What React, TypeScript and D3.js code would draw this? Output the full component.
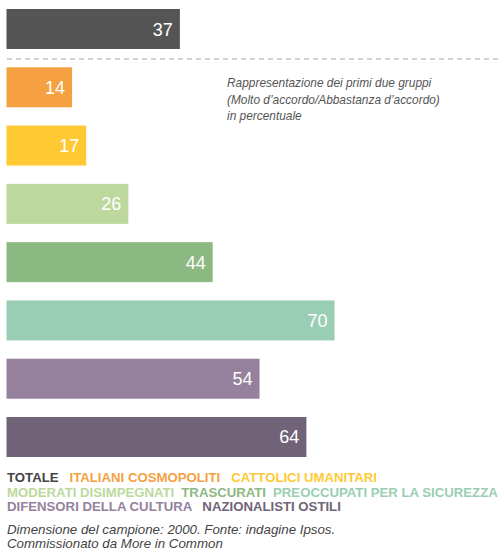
import React from "react";
import * as d3 from "d3";

const categories = [
  "TOTALE",
  "ITALIANI COSMOPOLITI",
  "CATTOLICI UMANITARI",
  "MODERATI DISIMPEGNATI",
  "TRASCURATI",
  "PREOCCUPATI PER LA SICUREZZA",
  "DIFENSORI DELLA CULTURA",
  "NAZIONALISTI OSTILI",
];
const values = [37, 14, 17, 26, 44, 70, 54, 64];
const colors = ["#555555", "#F5A142", "#FFC933", "#BDD89C", "#8CB881", "#9ACEB4", "#95819D", "#716377"];
const legendLines = [[0, 1, 2], [3, 4, 5], [6, 7]];
const legendGaps = [11, 7, 10];
const noteLines = [
  "Rappresentazione dei primi due gruppi",
  "(Molto d\u2019accordo/Abbastanza d\u2019accordo)",
  "in percentuale",
];
const footLines = [
  "Dimensione del campione: 2000. Fonte: indagine Ipsos.",
  "Commissionato da More in Common",
];

const W = 498;
const H = 551;
const FONT = "'Liberation Sans', Arial, Helvetica, sans-serif";

export default function App() {
  const x = d3.scaleLinear().domain([0, 100]).range([6.5, 6.5 + 468.6]);
  const y = d3.scaleBand<number>().domain(d3.range(categories.length)).range([9, 457]).paddingInner(0.3137);
  const legendColor = (i: number) => (i === 0 ? "#444444" : colors[i]);

  return (
    <svg
      width={W}
      height={H}
      style={{ position: "absolute", left: 0, top: 0, background: "#fff" }}
      fontFamily={FONT}
    >
      {values.map((v, i) => (
        <g key={i}>
          <rect x={x(0)} y={y(i)} width={x(v) - x(0)} height={y.bandwidth()} fill={colors[i]} />
          <text
            x={x(v) - 7}
            y={(y(i) as number) + y.bandwidth() / 2 + 6.5}
            textAnchor="end"
            fill="#fff"
            fontSize={18}
          >
            {v}
          </text>
        </g>
      ))}
      <line x1={7} x2={W} y1={59} y2={59} stroke="#c4c4c4" strokeWidth={1.5} strokeDasharray="5,4" />
      {noteLines.map((t, i) => (
        <text key={i} x={227} y={87 + i * 16.5} fontSize={11.9} fontStyle="italic" fill="#555">
          {t}
        </text>
      ))}
      {legendLines.map((line, li) => (
        <text key={li} x={7} y={482 + li * 14.5} fontSize={13.2} fontWeight="bold">
          {line.map((ci, k) => (
            <tspan key={ci} dx={k === 0 ? 0 : legendGaps[li]} fill={legendColor(ci)}>
              {categories[ci]}
            </tspan>
          ))}
        </text>
      ))}
      {footLines.map((t, i) => (
        <text key={i} x={7} y={534 + i * 13.5} fontSize={13.3} fontStyle="italic" fill="#444">
          {t}
        </text>
      ))}
    </svg>
  );
}
